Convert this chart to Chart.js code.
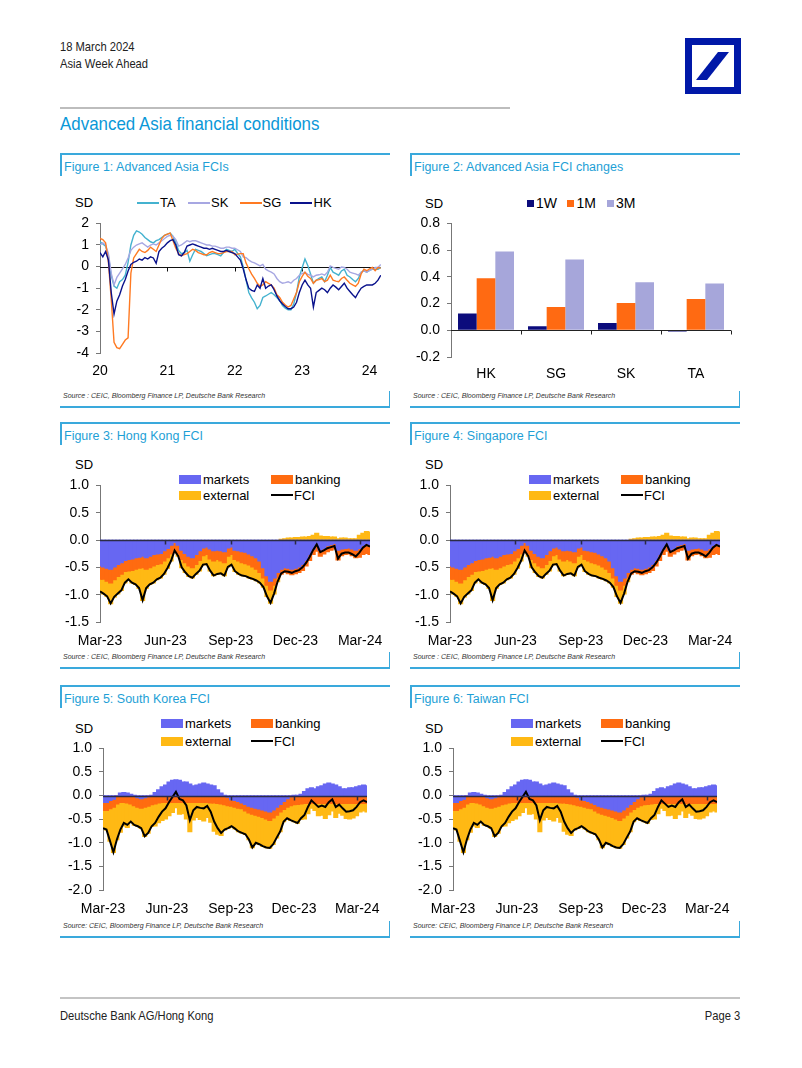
<!DOCTYPE html>
<html><head><meta charset="utf-8">
<script src="https://cdn.jsdelivr.net/npm/chart.js@4.4.1/dist/chart.umd.min.js"></script>
<style>
body{margin:0;background:#fff;}
#page{position:relative;width:802px;height:1068px;overflow:hidden;background:#fff;font-family:"Liberation Sans",Arial,sans-serif;color:#000}
.t{position:absolute;white-space:nowrap;line-height:1}
.hd{color:#222;transform:scaleX(0.86);transform-origin:0 50%}
.ln{position:absolute;background:#3aa9dc}
.ft{color:#1e9fd6;font-size:12.5px}
.src{font-size:7px;font-style:italic;color:#333}
canvas{position:absolute}
.sw{position:absolute}
</style></head><body><div id="page"></div>
<script>
// ================= DATA =================
// Figure 1: Advanced Asia FCIs (semi-monthly, Jan 2020 - Mar 2024)
const fig1StartYear = 2020;
const fig1PerYear = 24;
const fig1YearTicks = [2020, 2021, 2022, 2023, 2024];
const fciTA = [1.15,1.05,0.95,0.50,-0.40,-0.90,-1.00,-0.70,-0.60,-0.40,0.20,1.00,1.45,1.65,1.60,1.50,1.35,1.25,1.15,1.10,1.20,1.25,1.35,1.45,1.50,1.55,1.40,1.10,0.75,0.60,0.65,0.75,0.25,0.55,0.80,0.75,0.70,0.60,0.50,0.55,0.60,0.60,0.55,0.50,0.65,0.80,0.75,0.70,
  0.80,0.62,0.45,0.00,-0.60,-1.20,-1.45,-1.65,-1.95,-1.80,-1.43,-1.36,-1.28,-1.20,-1.30,-1.43,-1.58,-1.80,-1.92,-2.00,-2.00,-1.73,-1.20,-0.48,-0.05,0.35,0.05,-0.34,-0.77,-0.63,-0.55,-0.48,-0.70,-0.40,-0.04,-0.26,-0.33,-0.40,-0.20,-0.12,-0.40,-0.48,-0.60,-0.70,-0.55,-0.26,-0.19,-0.26,-0.18,-0.12,-0.12,-0.12,-0.04];
const fciSK = [1.00,1.10,1.00,0.60,-0.30,-0.85,-0.50,-0.30,-0.10,0.10,0.40,0.75,0.90,1.00,1.05,1.10,1.00,0.90,1.00,1.05,1.00,1.10,1.20,1.30,1.40,1.45,1.40,1.25,0.95,1.00,1.10,1.20,1.15,1.20,1.20,1.15,1.10,1.05,1.00,1.00,0.95,0.95,0.90,0.85,0.85,0.90,0.90,0.85,
  0.85,0.78,0.70,0.45,0.42,0.30,0.22,0.17,0.10,0.03,0.10,-0.12,-0.20,-0.26,-0.34,-0.55,-0.70,-0.77,-0.74,-0.70,-0.77,-0.63,-0.55,-0.40,-0.32,-0.26,-0.36,-0.40,-0.48,-0.40,-0.38,-0.34,-0.40,-0.26,0.03,-0.04,-0.08,-0.12,-0.02,-0.04,-0.12,-0.26,-0.30,-0.34,-0.40,-0.26,-0.19,-0.26,-0.18,-0.12,-0.04,-0.04,0.10];
const fciSG = [1.30,1.25,1.10,0.20,-1.50,-3.50,-3.75,-3.80,-3.60,-3.40,-3.30,-0.30,0.40,0.60,0.80,0.70,0.65,0.75,0.90,0.80,0.70,1.00,1.30,1.45,1.50,1.55,1.20,0.85,0.60,0.50,0.55,0.60,0.70,0.80,0.75,0.65,0.60,0.55,0.55,0.65,0.70,0.65,0.60,0.60,0.65,0.70,0.70,0.70,
  0.55,0.58,0.60,0.60,0.17,-0.10,-0.35,-0.55,-0.77,-0.92,-0.85,-0.70,-0.78,-0.85,-1.00,-1.30,-1.43,-1.65,-1.78,-1.87,-1.80,-1.50,-1.20,-0.70,-0.45,-0.26,-0.45,-0.55,-0.77,-0.63,-0.60,-0.55,-0.70,-0.63,-0.40,-0.63,-0.67,-0.70,-0.55,-0.48,-0.63,-0.77,-0.85,-0.92,-0.77,-0.34,-0.12,-0.19,-0.10,-0.04,-0.19,-0.04,-0.07];
const fciHK = [0.65,0.45,0.70,0.30,-1.20,-2.20,-1.60,-1.30,-0.90,-0.60,-0.20,0.10,0.20,0.25,0.35,0.30,0.42,0.35,0.45,0.40,0.15,0.70,0.85,0.95,1.10,1.20,1.25,1.00,0.55,0.50,0.65,0.95,1.00,1.05,1.00,0.95,0.90,0.85,0.85,0.80,0.85,0.80,0.75,0.70,0.70,0.75,0.70,0.65,
  0.60,0.45,0.30,-0.10,-0.60,-1.00,-1.10,-1.15,-0.85,-1.00,-0.55,-1.00,-0.90,-0.85,-1.07,-1.36,-1.58,-1.73,-1.85,-1.95,-1.95,-1.87,-1.65,-1.20,-0.85,-0.63,-0.85,-1.00,-1.87,-1.20,-1.10,-1.00,-1.07,-1.20,-1.00,-0.85,-0.95,-1.07,-0.92,-0.77,-1.00,-1.15,-1.30,-1.43,-1.20,-1.00,-0.92,-0.85,-0.85,-0.85,-0.77,-0.63,-0.40];

// Figure 2: FCI changes
const fig2Cats = ['HK','SG','SK','TA'];
const chg1W = [0.125, 0.03, 0.055, -0.01];
const chg1M = [0.39, 0.175, 0.205, 0.235];
const chg3M = [0.59, 0.53, 0.36, 0.35];

// Figures 3-6: components, every 5 days from 1 Mar 2023 to mid-Mar 2024
const compStepDays = 5;
const quarterDays = [0, 92, 184, 275, 366];
const quarterLabels = ['Mar-23','Jun-23','Sep-23','Dec-23','Mar-24'];

const hkMarkets = [-0.47,-0.49,-0.51,-0.53,-0.49,-0.44,-0.41,-0.37,-0.35,-0.34,-0.32,-0.31,-0.29,-0.32,-0.29,-0.26,-0.25,-0.24,-0.19,-0.15,-0.09,-0.04,-0.09,-0.18,-0.24,-0.29,-0.32,-0.26,-0.19,-0.14,-0.12,-0.16,-0.19,-0.18,-0.19,-0.21,-0.14,-0.12,-0.18,-0.19,-0.21,-0.22,-0.25,-0.28,-0.32,-0.38,-0.50,-0.65,-0.75,-0.69,-0.59,-0.53,-0.50,-0.51,-0.53,-0.51,-0.49,-0.44,-0.37,-0.26,-0.16,-0.06,-0.18,-0.15,-0.10,-0.08,-0.06,-0.18,-0.16,-0.15,-0.14,-0.16,-0.18,-0.15,-0.10,-0.06,-0.08];
const hkBanking = [-0.24,-0.22,-0.24,-0.25,-0.23,-0.22,-0.21,-0.20,-0.21,-0.21,-0.21,-0.20,-0.21,-0.21,-0.21,-0.21,-0.19,-0.19,-0.19,-0.17,-0.16,-0.14,-0.15,-0.17,-0.17,-0.18,-0.18,-0.18,-0.18,-0.14,-0.14,-0.18,-0.19,-0.17,-0.19,-0.20,-0.15,-0.14,-0.17,-0.19,-0.20,-0.21,-0.20,-0.21,-0.21,-0.21,-0.19,-0.17,-0.16,-0.13,-0.10,-0.09,-0.09,-0.10,-0.10,-0.10,-0.10,-0.11,-0.10,-0.11,-0.10,-0.14,-0.11,-0.10,-0.11,-0.10,-0.10,-0.18,-0.12,-0.11,-0.11,-0.12,-0.14,-0.16,-0.16,-0.18,-0.18];
const hkExternal = [-0.23,-0.27,-0.28,-0.38,-0.32,-0.32,-0.30,-0.21,-0.16,-0.23,-0.28,-0.37,-0.60,-0.35,-0.31,-0.31,-0.28,-0.26,-0.24,-0.19,-0.13,-0.01,-0.05,-0.15,-0.18,-0.19,-0.19,-0.18,-0.19,-0.17,-0.18,-0.22,-0.27,-0.27,-0.23,-0.24,-0.20,-0.19,-0.22,-0.24,-0.24,-0.23,-0.24,-0.22,-0.21,-0.19,-0.17,-0.21,-0.24,-0.16,-0.07,0.01,0.02,0.03,0.03,0.04,0.04,0.05,0.05,0.06,0.08,0.12,0.07,0.06,0.06,0.05,0.05,0.02,0.03,0.03,0.02,0.02,0.02,0.08,0.12,0.15,0.14];
const hkFCI = [-0.94,-0.98,-1.03,-1.16,-1.04,-0.98,-0.92,-0.78,-0.72,-0.78,-0.81,-0.88,-1.10,-0.88,-0.81,-0.78,-0.72,-0.69,-0.62,-0.51,-0.38,-0.19,-0.29,-0.50,-0.59,-0.66,-0.69,-0.62,-0.56,-0.45,-0.44,-0.56,-0.65,-0.62,-0.61,-0.65,-0.49,-0.45,-0.57,-0.62,-0.65,-0.66,-0.69,-0.71,-0.74,-0.78,-0.86,-1.03,-1.15,-0.98,-0.76,-0.61,-0.57,-0.58,-0.60,-0.57,-0.55,-0.50,-0.42,-0.31,-0.18,-0.08,-0.22,-0.19,-0.15,-0.13,-0.11,-0.34,-0.25,-0.23,-0.23,-0.26,-0.30,-0.23,-0.14,-0.09,-0.12];

const skMarkets = [-0.14,-0.14,-0.10,-0.07,-0.01,0.05,0.06,0.05,0.02,0.00,-0.04,-0.06,-0.04,-0.02,0.00,0.06,0.12,0.18,0.22,0.28,0.32,0.33,0.32,0.28,0.28,0.24,0.20,0.22,0.24,0.26,0.24,0.22,0.20,0.12,0.05,0.00,-0.03,-0.08,-0.10,-0.12,-0.15,-0.18,-0.22,-0.24,-0.26,-0.28,-0.30,-0.32,-0.34,-0.30,-0.24,-0.18,-0.12,-0.06,-0.02,0.00,0.00,0.02,0.08,0.14,0.16,0.14,0.18,0.20,0.24,0.26,0.24,0.22,0.18,0.14,0.14,0.16,0.16,0.18,0.20,0.22,0.20];
const skBanking = [-0.17,-0.17,-0.17,-0.17,-0.16,-0.14,-0.14,-0.15,-0.17,-0.21,-0.20,-0.20,-0.20,-0.20,-0.19,-0.17,-0.15,-0.14,-0.14,-0.14,-0.14,-0.14,-0.14,-0.14,-0.14,-0.14,-0.14,-0.14,-0.14,-0.14,-0.14,-0.15,-0.15,-0.16,-0.17,-0.19,-0.18,-0.14,-0.14,-0.14,-0.12,-0.14,-0.14,-0.15,-0.15,-0.15,-0.16,-0.17,-0.18,-0.17,-0.17,-0.16,-0.17,-0.18,-0.19,-0.19,-0.18,-0.17,-0.16,-0.16,-0.16,-0.16,-0.16,-0.16,-0.16,-0.16,-0.16,-0.16,-0.16,-0.16,-0.16,-0.16,-0.16,-0.16,-0.16,-0.16,-0.16];
const skExternal = [-0.38,-0.41,-0.69,-0.96,-0.76,-0.63,-0.50,-0.52,-0.40,-0.41,-0.41,-0.43,-0.62,-0.57,-0.46,-0.47,-0.42,-0.38,-0.35,-0.28,-0.21,-0.11,-0.25,-0.24,-0.35,-0.62,-0.37,-0.32,-0.36,-0.39,-0.32,-0.41,-0.60,-0.65,-0.67,-0.53,-0.48,-0.43,-0.46,-0.50,-0.52,-0.50,-0.57,-0.71,-0.59,-0.60,-0.61,-0.61,-0.59,-0.56,-0.48,-0.42,-0.26,-0.24,-0.31,-0.36,-0.40,-0.33,-0.33,-0.22,-0.10,-0.15,-0.26,-0.25,-0.32,-0.24,-0.16,-0.30,-0.21,-0.25,-0.32,-0.33,-0.31,-0.26,-0.18,-0.16,-0.18];
const skFCI = [-0.69,-0.72,-0.96,-1.20,-0.93,-0.72,-0.58,-0.62,-0.55,-0.62,-0.65,-0.69,-0.86,-0.79,-0.65,-0.58,-0.45,-0.34,-0.27,-0.14,-0.03,0.08,-0.07,-0.10,-0.21,-0.52,-0.31,-0.24,-0.26,-0.27,-0.22,-0.34,-0.55,-0.69,-0.79,-0.72,-0.69,-0.65,-0.70,-0.76,-0.79,-0.82,-0.93,-1.10,-1.00,-1.03,-1.07,-1.10,-1.11,-1.03,-0.89,-0.76,-0.55,-0.48,-0.52,-0.55,-0.58,-0.48,-0.41,-0.24,-0.10,-0.17,-0.24,-0.21,-0.24,-0.14,-0.08,-0.24,-0.19,-0.27,-0.34,-0.33,-0.31,-0.24,-0.14,-0.10,-0.14];

// Figure 4 (Singapore) and Figure 6 (Taiwan) in the source show the same pictures as Figures 3 and 5
const sgMarkets = hkMarkets, sgBanking = hkBanking, sgExternal = hkExternal, sgFCI = hkFCI;
const twMarkets = skMarkets, twBanking = skBanking, twExternal = skExternal, twFCI = skFCI;

// ================= PAGE =================
const page = document.getElementById('page');
function txt(s, x, cy, size, cls, extra) {
  const d = document.createElement('div');
  d.className = 't ' + (cls || '');
  d.textContent = s;
  d.style.fontSize = size + 'px';
  d.style.left = x + 'px';
  d.style.top = (cy - size * 0.5) + 'px';
  if (extra) Object.assign(d.style, extra);
  page.appendChild(d);
  return d;
}
function box(x, y, w, h, color, cls) {
  const d = document.createElement('div');
  d.className = cls || 'sw';
  d.style.cssText += `left:${x}px;top:${y}px;width:${w}px;height:${h}px;background:${color};position:absolute`;
  page.appendChild(d);
  return d;
}
// header
txt('18 March 2024', 60, 46, 13, 'hd');
txt('Asia Week Ahead', 60, 63, 13, 'hd');
page.insertAdjacentHTML('beforeend',
 '<svg style="position:absolute;left:685px;top:38px" width="56" height="56" viewBox="0 0 56 56">' +
 '<rect x="0" y="0" width="56" height="56" fill="#0018a8"/>' +
 '<rect x="7" y="7" width="42" height="42" fill="#fff"/>' +
 '<polygon points="11,42 22,42 44,14 33,14" fill="#0018a8"/></svg>');
box(60, 107, 450, 2, '#bdbdbd');
txt('Advanced Asia financial conditions', 60, 123, 19, 'hd', {color: '#0a98d8', transform: 'scaleX(0.89)'});
// footer
box(60, 997, 680, 2, '#c4c4c4');
txt('Deutsche Bank AG/Hong Kong', 60, 1015, 13, 'hd');
const pg = txt('Page 3', 0, 1015, 13, 'hd', {transformOrigin: '100% 50%'});
pg.style.left = ''; pg.style.right = (802 - 740) + 'px';

// panels
function panel(x, top, bottom, title, source) {
  box(x, top, 330, 1.5, '#3aa9dc', 'ln');
  box(x, top, 1.5, 23, '#3aa9dc', 'ln');
  box(x, bottom, 330, 1.5, '#3aa9dc', 'ln');
  box(x + 328.5, bottom - 15, 1.5, 16, '#3aa9dc', 'ln');
  txt(title, x + 4, top + 14, 12.5, 'ft');
  txt(source, x + 3, bottom - 11, 7, 'src');
}
const srcA = 'Source : CEIC, Bloomberg Finance LP, Deutsche Bank Research';
const srcB = 'Source: CEIC, Bloomberg Finance LP, Deutsche Bank Research';
panel(60, 153, 406, 'Figure 1: Advanced Asia FCIs', srcA);
panel(410, 153, 406, 'Figure 2: Advanced Asia FCI changes', srcA);
panel(60, 422, 667, 'Figure 3: Hong Kong FCI', srcA);
panel(410, 422, 667, 'Figure 4: Singapore FCI', srcA);
panel(60, 685, 936, 'Figure 5: South Korea FCI', srcB);
panel(410, 685, 936, 'Figure 6: Taiwan FCI', srcB);

// colours
const C = {TA:'#44b2cf', SK:'#a7a7e2', SG:'#ff7a22', HK:'#0a128c',
  w1:'#0c0c7c', m1:'#ff6a12', m3:'#a6a6da',
  markets:'#6767f2', banking:'#ff6b10', external:'#ffb914', fci:'#000'};

// Figure 1 legend
txt('SD', 75, 202.7, 13);
[['TA',137,160],['SK',188,211],['SG',240,262.5],['HK',290,313.5]].forEach(([k,l,tx]) => {
  box(l, 202, 22, 1.6, C[k]);
  txt(k, tx, 202.7, 13);
});
// Figure 2 legend
txt('SD', 425, 203, 13);
[['1W','w1',527,536],['1M','m1',567,576.5],['3M','m3',607,616]].forEach(([k,c,l,tx]) => {
  box(l, 199.5, 7, 7, C[c]);
  txt(k, tx, 203, 14);
});
// Figures 3-6 legends
function compLegend(ox, sdY, r1, r2, c1, c2, w) {
  txt('SD', ox + 75, sdY, 13);
  box(ox + c1, r1 - 4.5, w, 9, C.markets); txt('markets', ox + c1 + w + 2, r1, 13);
  box(ox + c2, r1 - 4.5, w, 9, C.banking); txt('banking', ox + c2 + w + 2, r1, 13);
  box(ox + c1, r2 - 4.5, w, 9, C.external); txt('external', ox + c1 + w + 2, r2, 13);
  box(ox + c2, r2 - 1, w, 2, C.fci); txt('FCI', ox + c2 + w + 1, r2, 13);
}
compLegend(0, 464, 479.3, 495.3, 179, 271, 22);
compLegend(350, 464, 479.3, 495.3, 179, 271, 22);
compLegend(0, 728, 723.3, 741, 161, 251, 22);
compLegend(350, 728, 723.3, 741, 161, 251, 22);

// ================= CHARTS =================
Chart.defaults.font.family = '"Liberation Sans", Arial, sans-serif';
Chart.defaults.color = '#000';
Chart.defaults.animation = false;
Chart.defaults.plugins.legend.display = false;
Chart.defaults.plugins.tooltip.enabled = false;

function mkCanvas(x, y, w, h) {
  const c = document.createElement('canvas');
  c.width = w; c.height = h;
  c.style.left = x + 'px'; c.style.top = y + 'px';
  c.style.width = w + 'px'; c.style.height = h + 'px';
  page.appendChild(c);
  return c;
}
const zeroLine = {
  id: 'zeroLine',
  beforeDatasetsDraw(chart, args, o) { if (o.under) draw(chart, o); },
  afterDatasetsDraw(chart, args, o) { if (!o.under) draw(chart, o); }
};
function draw(chart, o) {
  const {ctx, chartArea, scales} = chart;
  const y = Math.round(scales.y.getPixelForValue(0)) + 0.5;
  ctx.save();
  ctx.strokeStyle = o.color || '#222';
  ctx.lineWidth = o.width || 1;
  ctx.beginPath();
  ctx.moveTo(chartArea.left, y); ctx.lineTo(chartArea.right, y);
  (o.ticks || []).forEach(v => {
    const x = Math.round(scales.x.getPixelForValue(v)) + 0.5;
    ctx.moveTo(x, y); ctx.lineTo(x, y + 4);
  });
  ctx.stroke();
  ctx.restore();
}
function yAxis(min, max, step, w, fmt) {
  return {
    min, max,
    ticks: {stepSize: step, font: {size: 14}, padding: 7, callback: fmt},
    grid: {display: true, drawOnChartArea: false, drawTicks: true, tickLength: 4, color: '#777'},
    border: {display: true, color: '#777', width: 1},
    afterFit(s) { s.width = w; }
  };
}

// Figure 1
(function () {
  const c = mkCanvas(60, 208, 330, 180);
  const pts = arr => arr.map((v, i) => ({x: fig1StartYear + i / fig1PerYear, y: v}));
  const ds = (label, arr) => ({label, data: pts(arr), borderColor: C[label], borderWidth: 1.4, pointRadius: 0, fill: false, tension: 0});
  new Chart(c, {
    type: 'line',
    data: {datasets: [ds('HK', fciHK), ds('SG', fciSG), ds('SK', fciSK), ds('TA', fciTA)]},
    options: {
      responsive: false, devicePixelRatio: 1,
      layout: {padding: {top: 9, right: 9, left: 0, bottom: 0}},
      scales: {
        x: {type: 'linear', min: 2020, max: 2024.17,
            afterBuildTicks(s) { s.ticks = fig1YearTicks.map(v => ({value: v})); },
            ticks: {font: {size: 14}, padding: 2, autoSkip: false, maxRotation: 0, callback: v => String(v - 2000)},
            grid: {display: false}, border: {display: false},
            afterFit(s) { s.height = 35; }},
        y: yAxis(-4, 2, 1, 40, v => String(v))
      },
      plugins: {zeroLine: {under: true, color: '#111', width: 1, ticks: [2021, 2022, 2023]}}
    },
    plugins: [zeroLine]
  });
})();

// Figure 2
(function () {
  const c = mkCanvas(410, 208, 330, 180);
  new Chart(c, {
    type: 'bar',
    data: {labels: fig2Cats, datasets: [
      {label: '1W', data: chg1W, backgroundColor: C.w1},
      {label: '1M', data: chg1M, backgroundColor: C.m1},
      {label: '3M', data: chg3M, backgroundColor: C.m3}]},
    options: {
      responsive: false, devicePixelRatio: 1,
      layout: {padding: {top: 10, right: 9, left: 0, bottom: 0}},
      datasets: {bar: {categoryPercentage: 0.8, barPercentage: 1.0}},
      scales: {
        x: {ticks: {font: {size: 14}, padding: 1}, grid: {display: false}, border: {display: false},
            afterFit(s) { s.height = 31; }},
        y: yAxis(-0.2, 0.8, 0.2, 41, v => v.toFixed(1))
      },
      plugins: {zeroLine: {under: false, color: '#222', width: 1, ticks: [0.5, 1.5, 2.5, 3.5]}}
    },
    plugins: [zeroLine]
  });
})();

// Figures 3-6
function compChart(x, y, w, h, yMin, yW, padTop, padRight, xH, markets, banking, external, fci) {
  const c = mkCanvas(x, y, w, h);
  const pts = arr => arr.map((v, i) => ({x: i * compStepDays, y: v}));
  const bar = (label, arr, col) => ({type: 'bar', label, data: pts(arr), backgroundColor: col, borderWidth: 0,
    inflateAmount: 0.8, barPercentage: 1, categoryPercentage: 1, stack: 'comp', order: 2});
  new Chart(c, {
    type: 'bar',
    data: {datasets: [
      bar('markets', markets, C.markets),
      bar('banking', banking, C.banking),
      bar('external', external, C.external),
      {type: 'line', label: 'FCI', data: pts(fci), borderColor: '#000', borderWidth: 2, pointRadius: 0,
       fill: false, tension: 0, stack: 'fci', order: 0}
    ]},
    options: {
      responsive: false, devicePixelRatio: 1,
      layout: {padding: {top: padTop, right: padRight, left: 0, bottom: 0}},
      scales: {
        x: {type: 'linear', min: 0, max: 380, offset: false, stacked: true,
            afterBuildTicks(s) { s.ticks = quarterDays.map(v => ({value: v})); },
            ticks: {font: {size: 14}, padding: 3, autoSkip: false, maxRotation: 0,
                    callback: (v, i) => quarterLabels[i]},
            grid: {display: false}, border: {display: false},
            afterFit(s) { s.height = xH; }},
        y: Object.assign(yAxis(yMin, 1.0, 0.5, yW, v => v.toFixed(1)), {stacked: true})
      },
      plugins: {zeroLine: {under: false, color: '#2b2b45', width: 1.5, ticks: quarterDays.slice(1)}}
    },
    plugins: [zeroLine]
  });
}
compChart(60, 470, 330, 185, -1.5, 40, 10, 20, 33, hkMarkets, hkBanking, hkExternal, hkFCI);
compChart(410, 470, 330, 185, -1.5, 40, 10, 20, 33, sgMarkets, sgBanking, sgExternal, sgFCI);
compChart(60, 733, 330, 190, -2.0, 43, 10, 23, 33, skMarkets, skBanking, skExternal, skFCI);
compChart(410, 733, 330, 190, -2.0, 43, 10, 23, 33, twMarkets, twBanking, twExternal, twFCI);
</script></body></html>
